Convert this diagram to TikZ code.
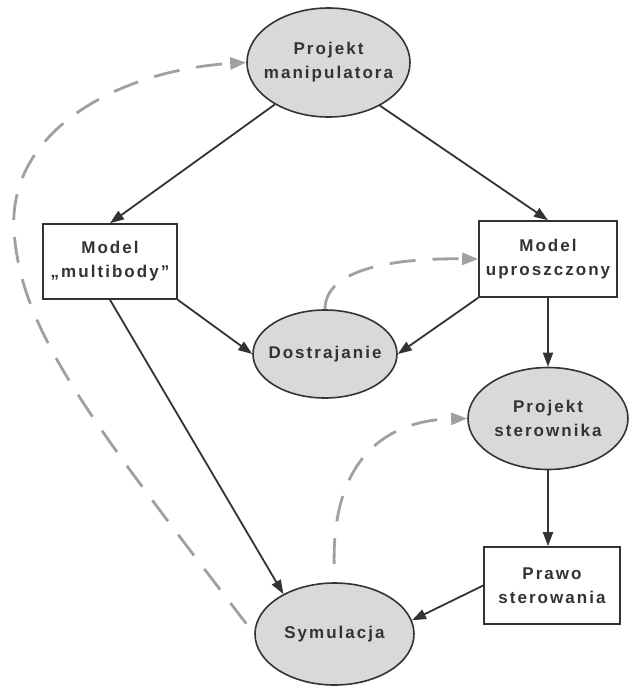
\documentclass[tikz,border=0pt]{standalone}
\usepackage{fontspec}
\setmainfont{Liberation Sans}[LetterSpace=12]
\usetikzlibrary{arrows.meta,shapes.geometric}
\definecolor{ink}{HTML}{333333}
\definecolor{fillg}{HTML}{D9D9D9}
\definecolor{dashg}{HTML}{A0A0A0}
\tikzset{
  lbl/.style={font=\fontsize{17}{24}\selectfont\bfseries, text=ink, align=center},
  oval/.style={ellipse, draw=ink, line width=1.6pt, fill=fillg, inner sep=0pt},
  box/.style={lbl, rectangle, draw=ink, line width=1.6pt, fill=white, inner sep=0pt},
  flow/.style={draw=ink, line width=1.8pt, -{Triangle[length=14pt,width=10pt]}},
  back/.style={draw=dashg, line width=2.8pt, dash pattern=on 26pt off 17pt, -{Triangle[length=16pt,width=12pt]}},
}
\begin{document}
\begin{tikzpicture}[x=1pt,y=-1pt]
\useasboundingbox[fill=white] (0,0) rectangle (629,686);

\node[oval, minimum width=163pt, minimum height=109pt,
      label={[lbl]center:Projekt\\manipulatora}] (pm) at (328.5,62.5) {};
\node[box, minimum width=134pt, minimum height=75pt] (mm) at (110,261.5) {Model\\„multibody”};
\node[box, minimum width=138pt, minimum height=76pt] (mu) at (548,259) {Model\\uproszczony};
\node[oval, minimum width=144pt, minimum height=88pt,
      label={[lbl]center:Dostrajanie}] (dos) at (325,354) {};
\node[oval, minimum width=160pt, minimum height=102pt,
      label={[lbl]center:Projekt\\sterownika}] (ps) at (548,418.5) {};
\node[box, minimum width=136pt, minimum height=77pt] (pw) at (552,585.5) {Prawo\\sterowania};
\node[oval, minimum width=159pt, minimum height=102pt,
      label={[lbl]center:Symulacja}] (sym) at (334.5,634) {};

\draw[flow] (pm.218) -- (mm.north);
\draw[flow] (pm.320) -- (mu.north);
\draw[flow] (mm.south east) -- (dos.west);
\draw[flow] (mu.south west) -- (dos.east);
\draw[flow] (mu.south) -- (ps.north);
\draw[flow] (ps.south) -- (ps.south |- pw.north);
\draw[flow] (pw.west) -- (sym.10);
\draw[flow] (mm.south) -- (sym.142);

\draw[back, shorten <=13pt] (sym.west) .. controls (90,420) and (20,330) .. (14,230)
      .. controls (8,130) and (120,70) .. (pm.west);
\draw[back] (dos.north) .. controls (325,270) and (390,258) .. (mu.west);
\draw[back, shorten <=18pt] (sym.north) .. controls (332,455) and (390,420) .. (ps.west);
\end{tikzpicture}
\end{document}
